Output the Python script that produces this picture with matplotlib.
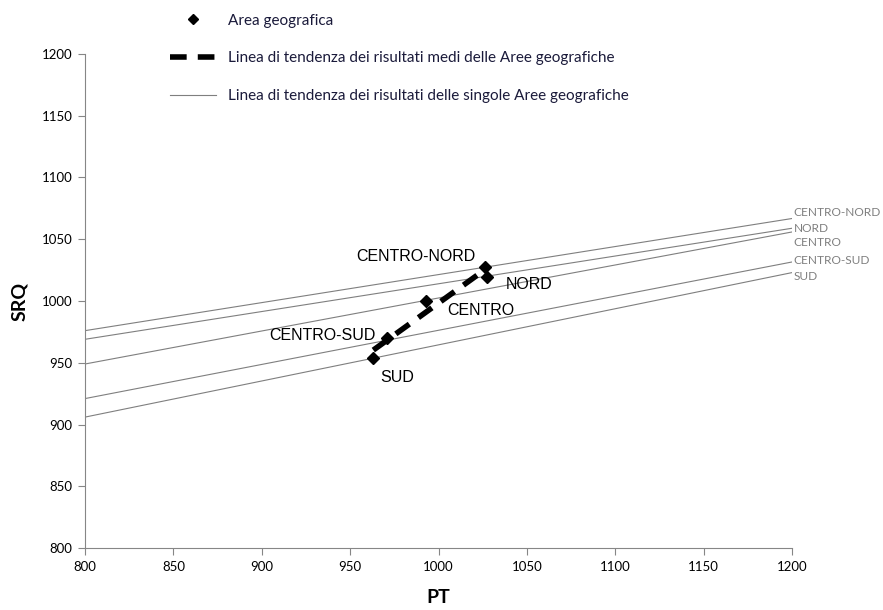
import matplotlib.pyplot as plt
from matplotlib.lines import Line2D
import numpy as np

# Aree geografiche: punti medi (PT, SRQ)
aree = ['CENTRO-NORD', 'NORD', 'CENTRO', 'CENTRO-SUD', 'SUD']
pt_medi = [1026.3, 1027.3, 992.9, 971.0, 963.1]
srq_medi = [1027.9, 1019.8, 999.8, 970.0, 954.1]

# linee di tendenza delle singole aree: valore SRQ a PT=800 e PT=1200
pt_estremi = [800, 1200]
srq_a_800 = [976, 969, 949, 921, 906]
srq_a_1200 = [1066.8, 1058.9, 1055.9, 1031.6, 1023.0]

x_ticks = [800, 850, 900, 950, 1000, 1050, 1100, 1150, 1200]
y_ticks = [800, 850, 900, 950, 1000, 1050, 1100, 1150, 1200]

# offset (pixel) delle etichette dei punti
lab_off = [(-69, 10), (42, -8), (55, -9), (-65, 3), (24, -20)]
# posizione verticale (SRQ) delle etichette a destra
lab_dx_y = [1072, 1058.3, 1047, 1032.4, 1020]

grigio = '#868686'

fig = plt.figure(figsize=(8.83, 6.1), dpi=100)
ax = fig.add_axes([0.0963, 0.1016, 0.8007, 0.8099])

for i in range(len(aree)):
    ax.plot(pt_estremi, [srq_a_800[i], srq_a_1200[i]], color='#7f7f7f', linewidth=0.8)
    ax.text(1201, lab_dx_y[i], aree[i], color='#7f7f7f', fontsize=8.6,
            family='Lato', ha='left', va='center', clip_on=False)

# tendenza dei risultati medi
coef = np.polyfit(pt_medi, srq_medi, 1)
xx = np.array([min(pt_medi), max(pt_medi)])
ax.plot(xx, np.polyval(coef, xx), color='black', linewidth=4,
        linestyle=(0, (3, 2)), dash_capstyle='butt')

ax.plot(pt_medi, srq_medi, 'D', color='black', markersize=6, linestyle='none')

for i in range(len(aree)):
    ax.annotate(aree[i], (pt_medi[i], srq_medi[i]), xytext=lab_off[i],
                textcoords='offset pixels', ha='center', va='center',
                fontsize=11.5, family='Liberation Sans')

ax.set_xlim(800, 1200)
ax.set_ylim(800, 1200)
ax.set_xticks(x_ticks)
ax.set_yticks(y_ticks)
ax.spines['top'].set_visible(False)
ax.spines['right'].set_visible(False)
ax.spines['left'].set_color(grigio)
ax.spines['bottom'].set_color(grigio)
ax.tick_params(direction='out', length=5, color=grigio, labelsize=9.5, pad=4)
for lab in ax.get_xticklabels() + ax.get_yticklabels():
    lab.set_family('Lato')

ax.set_xlabel('PT', fontsize=14, fontweight='bold', family='Lato', labelpad=12)
ax.set_ylabel('SRQ', fontsize=14, fontweight='bold', family='Lato', labelpad=10)

handles = [
    Line2D([], [], marker='D', color='black', markersize=5, linestyle='none'),
    Line2D([], [], color='black', linewidth=4, linestyle=(0, (3, 2)), dash_capstyle='butt'),
    Line2D([], [], color='#7f7f7f', linewidth=0.8),
]
labels = ['Area geografica',
          'Linea di tendenza dei risultati medi delle Aree geografiche',
          'Linea di tendenza dei risultati delle singole Aree geografiche']
fig.legend(handles, labels, loc='upper left', bbox_to_anchor=(0.1768, 1.0),
           frameon=False, labelspacing=1.55, handlelength=3.0, handletextpad=0.8,
           prop={'family': 'Lato', 'size': 11}, labelcolor='#1a1a3a')

fig.savefig('out.png', dpi=100)
